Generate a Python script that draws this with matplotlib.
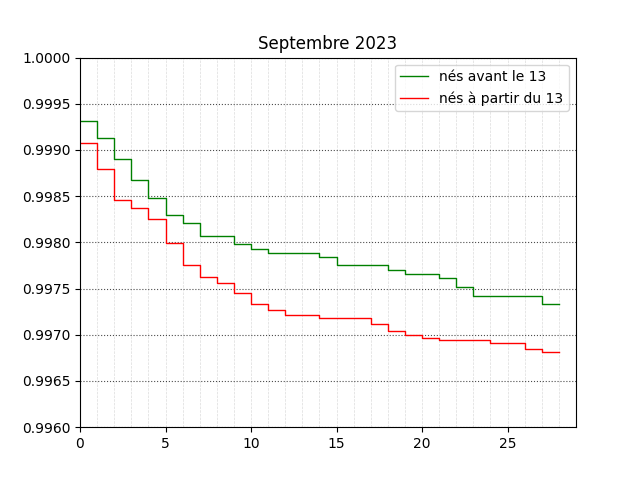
import matplotlib
matplotlib.use("Agg")
import matplotlib.pyplot as plt
from matplotlib.ticker import MultipleLocator, FormatStrFormatter

days = list(range(0, 29))

avant = [0.999315, 0.999134, 0.998902, 0.998674, 0.998478, 0.998297, 0.998207,
         0.998068, 0.998068, 0.997978, 0.997927, 0.997880, 0.997880, 0.997880,
         0.997837, 0.997753, 0.997753, 0.997753, 0.997696, 0.997655, 0.997655,
         0.997612, 0.997514, 0.997424, 0.997424, 0.997424, 0.997424, 0.997337]

apres = [0.999079, 0.998793, 0.998460, 0.998370, 0.998253, 0.997989, 0.997757,
         0.997623, 0.997565, 0.997449, 0.997329, 0.997264, 0.997217, 0.997217,
         0.997185, 0.997185, 0.997185, 0.997120, 0.997036, 0.997000, 0.996967,
         0.996946, 0.996946, 0.996946, 0.996913, 0.996913, 0.996851, 0.996815]

labels = ["nés avant le 13", "nés à partir du 13"]
title = "Septembre 2023"

fig, ax = plt.subplots(figsize=(6.4, 4.8), dpi=100)
ax.step(days, avant + [avant[-1]], where="post", color="green", lw=1, label=labels[0])
ax.step(days, apres + [apres[-1]], where="post", color="red", lw=1, label=labels[1])

ax.set_xlim(0, 29)
ax.set_ylim(0.996, 1.0)
ax.yaxis.set_major_formatter(FormatStrFormatter("%.4f"))
ax.xaxis.set_major_locator(MultipleLocator(5))
ax.xaxis.set_minor_locator(MultipleLocator(1))
ax.tick_params(which="minor", length=0)
ax.grid(which="both", axis="x", color="lightgrey", ls="--", lw=0.5, alpha=0.8)
ax.grid(which="major", axis="y", color="black", ls=":", lw=0.8, alpha=0.7)
ax.set_title(title)
ax.legend(loc="upper right")
fig.savefig("out.png", dpi=100)
